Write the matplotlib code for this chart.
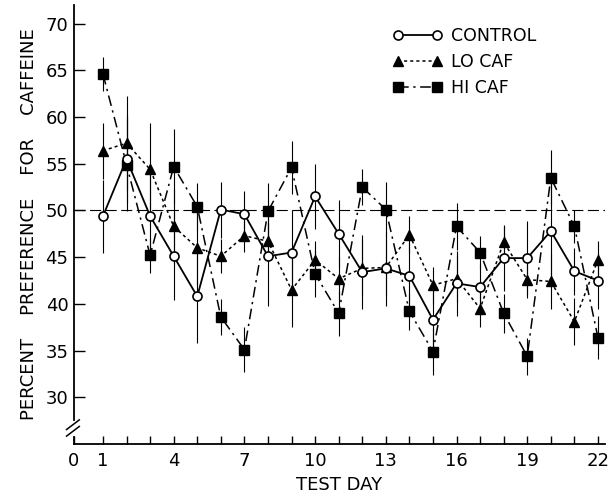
import matplotlib
matplotlib.use('Agg')
import matplotlib.pyplot as plt
import pandas as pd

# values
days = list(range(1, 23))
control = [49.4, 55.5, 49.4, 45.1, 40.8, 50.1, 49.6, 45.1, 45.5, 51.5, 47.5, 43.4,
           43.8, 43.0, 38.3, 42.2, 41.8, 44.9, 44.9, 47.8, 43.5, 42.5]
control_err = [3.9, 4.7, 4.5, 4.7, 5.0, 3.0, 2.5, 5.3, 4.5, 3.5, 3.6, 4.0,
               4.0, 3.5, 3.0, 3.5, 2.5, 3.5, 4.0, 5.5, 2.5, 3.0]
lo_caf = [56.4, 57.2, 54.4, 48.3, 46.0, 45.1, 47.3, 46.7, 41.5, 44.7, 42.7, 43.8,
          43.9, 47.4, 42.0, 42.7, 39.5, 46.6, 42.6, 42.4, 38.1, 44.7]
lo_err = [3.0, 5.0, 5.0, 4.0, 4.0, 1.8, 1.7, 2.0, 4.0, 2.0, 2.3, 3.0,
          3.0, 2.0, 2.0, 2.5, 2.0, 1.7, 2.0, 3.0, 2.5, 2.0]
hi_caf = [64.6, 54.9, 45.2, 54.7, 50.4, 38.6, 35.1, 49.9, 54.6, 43.2, 39.0, 52.5,
          50.1, 39.2, 34.9, 48.3, 45.5, 39.0, 34.4, 53.5, 48.3, 36.4]
hi_err = [1.8, 5.0, 1.9, 4.0, 2.5, 1.9, 2.4, 3.0, 2.8, 2.5, 2.4, 1.9,
          3.0, 2.0, 2.5, 2.5, 1.8, 2.1, 2.0, 3.0, 1.8, 2.3]

xtick_pos = [1, 4, 7, 10, 13, 16, 19, 22]
yticks = [30, 35, 40, 45, 50, 55, 60, 65, 70]

df = pd.DataFrame({'day': days, 'control': control, 'control_err': control_err,
                   'lo': lo_caf, 'lo_err': lo_err, 'hi': hi_caf, 'hi_err': hi_err})

plt.rcParams['font.family'] = ['DejaVu Sans']

fig = plt.figure(figsize=(6.08, 4.95), dpi=100)
ax = fig.add_axes([0.1217, 0.103, 0.8734, 0.887])

xmin, xmax = -0.23, 22.3
ax.set_xlim(xmin, xmax)
ax.set_ylim(25, 72)

# reference line at 50
ax.axhline(50, color='black', lw=0.8, ls=(0, (10, 4)), zorder=1)

# error bars
for col, err in [('hi', 'hi_err'), ('lo', 'lo_err'), ('control', 'control_err')]:
    ax.vlines(df['day'], df[col] - df[err], df[col] + df[err], color='black', lw=0.8, zorder=2)

ax.plot(df['day'], df['hi'], color='black', lw=1.1, ls=(0, (7, 3, 1.5, 3)),
        marker='s', ms=7, mfc='black', mec='black', label='HI CAF', zorder=3)
ax.plot(df['day'], df['lo'], color='black', lw=1.1, ls=(0, (2, 2)),
        marker='^', ms=7, mfc='black', mec='black', label='LO CAF', zorder=4)
ax.plot(df['day'], df['control'], color='black', lw=1.3, ls='-',
        marker='o', ms=6.5, mfc='white', mec='black', mew=1.2, label='CONTROL', zorder=5)

# ticks
ax.set_xticks([xmin] + xtick_pos)
ax.set_xticklabels(['0'] + [str(d) for d in xtick_pos])
ax.set_xticks(days, minor=True)
ax.set_yticks(yticks)
ax.tick_params(axis='x', which='both', direction='in', length=6, width=1, labelsize=13, pad=6)
ax.tick_params(axis='y', direction='in', length=8, width=1, labelsize=13, pad=4)

for s in ['top', 'right']:
    ax.spines[s].set_visible(False)
ax.spines['left'].set_linewidth(1.3)
ax.spines['bottom'].set_linewidth(1.3)

# axis break on the y axis
ax.plot([0, 0], [0.022, 0.048], transform=ax.transAxes, color='white', lw=3,
        clip_on=False, zorder=10)
for y0 in [0.018, 0.033]:
    ax.plot([-0.014, 0.010], [y0, y0 + 0.022], transform=ax.transAxes, color='black',
            lw=1.1, clip_on=False, zorder=11)

ax.set_xlabel('TEST DAY', fontsize=13, labelpad=4)
ax.set_ylabel('PERCENT    PREFERENCE    FOR    CAFFEINE', fontsize=13, labelpad=5)

handles, labels = ax.get_legend_handles_labels()
order = [2, 1, 0]
ax.legend([handles[i] for i in order], [labels[i] for i in order], loc='upper left',
          bbox_to_anchor=(0.57, 0.985), frameon=False, numpoints=2, handlelength=2.9,
          fontsize=12.5, labelspacing=0.45, handletextpad=0.5)

fig.savefig('out.png', dpi=100)
